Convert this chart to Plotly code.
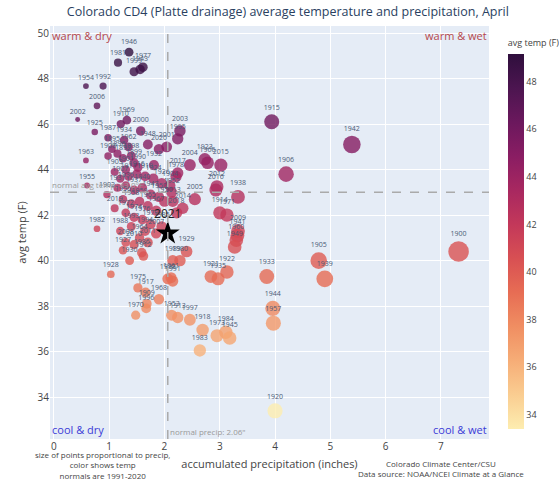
import plotly.graph_objects as go

years = [1946, 1981, 1999, 1943, 1977, 1954, 1992, 2006, 2002, 1969,
         1910, 2000, 1925, 1987, 1934, 1962, 1948, 2001, 1963, 1908,
         1932, 1990, 2003, 1995, 2004, 1923, 1966, 2015, 2017, 1978,
         2012, 2016, 1938, 2005, 1952, 1914, 1971, 2009, 1941, 1960,
         1949, 1929, 1989, 1980, 1998, 1991, 1921, 1935, 1922, 1933,
         1944, 1957, 1953, 1913, 1997, 1918, 1973, 1984, 1945, 1983,
         1920, 1915, 1942, 1906, 1905, 1939, 1900, 1955, 1902, 1982,
         1928, 1975, 1917, 1968, 1909, 1970, 1996, 1961, 1912, 1927,
         1930, 1986, 1964,
         1895, 1896, 1897, 1898, 1899, 1901, 1903, 1904, 1907, 1911,
         1916, 1919, 1924, 1926, 1931, 1936, 1937, 1940, 1947, 1950,
         1951, 1956, 1958, 1959, 1965, 1967, 1972, 1974, 1976, 1979,
         1985, 1988, 1993, 1994, 2007, 2008, 2010, 2011, 2013, 2014,
         2018, 2019, 2020]

precip = [1.36, 1.16, 1.45, 1.56, 1.61, 0.58, 0.89, 0.78, 0.43, 1.32,
          1.21, 1.57, 0.74, 0.98, 1.27, 1.35, 1.70, 2.04, 0.58, 0.98,
          1.81, 1.52, 2.28, 2.24, 2.46, 2.73, 2.78, 3.02, 2.24, 2.21,
          2.95, 2.93, 3.33, 2.55, 2.13, 3.00, 3.13, 3.33, 3.32, 3.30,
          3.27, 2.40, 2.15, 2.28, 2.06, 2.15, 2.84, 2.97, 3.13, 3.85,
          3.96, 3.97, 2.13, 2.24, 2.46, 2.69, 2.95, 3.11, 3.18, 2.64,
          4.00, 3.94, 5.39, 4.20, 4.79, 4.90, 7.32, 0.60, 0.96, 0.78,
          1.03, 1.52, 1.66, 1.90, 1.68, 1.48, 1.67, 2.12, 1.62, 1.25,
          1.37, 1.59, 1.55,
          1.05, 1.15, 1.25, 1.40, 1.45, 1.30, 1.10, 2.10, 1.20, 1.35,
          1.50, 1.65, 1.80, 1.95, 1.15, 1.30, 1.45, 1.60, 1.75, 1.90,
          2.00, 1.25, 1.40, 1.55, 1.70, 1.85, 1.30, 1.45, 1.60, 1.75,
          1.95, 1.20, 1.40, 1.65, 1.85, 1.30, 1.45, 1.70, 2.15, 2.33,
          2.22, 1.10, 1.90]

temp = [49.16, 48.70, 48.30, 48.40, 48.50, 47.67, 47.67, 46.80, 46.20, 46.17,
        46.00, 45.70, 45.65, 45.40, 45.30, 45.00, 45.10, 45.00, 44.40, 44.60,
        44.20, 44.10, 45.70, 45.35, 44.20, 44.45, 44.30, 44.20, 43.85, 43.70,
        43.25, 43.10, 42.80, 42.70, 43.00, 42.10, 42.00, 41.30, 41.10, 40.90,
        40.60, 40.40, 40.00, 40.00, 39.20, 39.10, 39.30, 39.20, 39.50, 39.30,
        37.90, 37.25, 37.60, 37.50, 37.40, 36.95, 36.70, 36.85, 36.60, 36.05,
        33.40, 46.10, 45.10, 43.80, 40.00, 39.20, 40.40, 43.30, 42.90, 41.40,
        39.40, 38.80, 38.60, 38.30, 38.10, 37.60, 37.90, 39.25, 40.20, 40.45,
        40.00, 40.35, 41.00,
        44.90, 44.70, 44.50, 44.60, 44.30, 44.00, 43.90, 43.30, 43.60, 43.70,
        43.80, 43.70, 43.60, 43.40, 43.20, 43.30, 43.10, 43.20, 42.90, 42.80,
        42.60, 42.70, 42.50, 42.60, 42.40, 42.20, 42.10, 41.90, 41.80, 41.60,
        41.50, 41.30, 41.50, 41.30, 41.20, 40.80, 40.70, 40.80, 42.60, 42.30,
        42.10, 42.30, 44.90]

year_2021 = [2021]
precip_2021 = [2.06]
temp_2021 = [41.2]

normal_precip = 2.06
normal_temp = 43.0

x_ticks = [0, 1, 2, 3, 4, 5, 6, 7]
y_ticks = [34, 36, 38, 40, 42, 44, 46, 48, 50]

max_p = max(precip)
fig = go.Figure()
fig.add_trace(go.Scatter(
    x=precip, y=temp, mode="markers+text",
    text=[str(y) for y in years], textposition="top center",
    textfont=dict(size=7, color="#4a5a75"),
    marker=dict(size=precip, sizemode="area", sizeref=2.0 * max_p / 20.5 ** 2,
                sizemin=2, color=temp, colorscale="matter", opacity=0.8,
                line=dict(width=0),
                colorbar=dict(title=dict(text="avg temp (F)", side="top",
                                         font=dict(size=9, color="#444")),
                              thickness=16, tickvals=y_ticks,
                              tickfont=dict(size=9, color="#444"),
                              outlinewidth=0)),
    showlegend=False, hoverinfo="x+y+text",
))
fig.add_trace(go.Scatter(
    x=precip_2021, y=temp_2021, mode="markers+text",
    text=[str(y) for y in year_2021], textposition="top center",
    textfont=dict(size=12, color="#222"),
    marker=dict(symbol="star", size=18, color="black"),
    showlegend=False,
))

fig.add_vline(x=normal_precip, line=dict(color="#aaa", width=1.5, dash="dash"))
fig.add_hline(y=normal_temp, line=dict(color="#aaa", width=1.5, dash="dash"))

ann = [
    dict(text="warm & dry", x=0, y=1, xanchor="left", yanchor="top", color="#b5474d"),
    dict(text="warm & wet", x=1, y=1, xanchor="right", yanchor="top", color="#b5474d"),
    dict(text="cool & dry", x=0, y=0, xanchor="left", yanchor="bottom", color="#3b3bd6"),
    dict(text="cool & wet", x=1, y=0, xanchor="right", yanchor="bottom", color="#3b3bd6"),
]
for a in ann:
    fig.add_annotation(text=a["text"], xref="paper", yref="paper", x=a["x"], y=a["y"],
                       xanchor=a["xanchor"], yanchor=a["yanchor"], showarrow=False,
                       font=dict(size=11, color=a["color"]))

fig.add_annotation(text='normal precip: 2.06"', x=normal_precip, xref="x", y=0, yref="paper",
                   xanchor="left", yanchor="bottom", showarrow=False,
                   font=dict(size=8, color="#999"))
fig.add_annotation(text="normal avg temp: 43.0°F", x=0, xref="paper", y=normal_temp, yref="y",
                   xanchor="left", yanchor="bottom", showarrow=False,
                   font=dict(size=8, color="#999"))
fig.add_annotation(text="size of points proportional to precip,<br>color shows temp<br>normals are 1991-2020",
                   xref="paper", yref="paper", x=0.12, y=-0.02, xanchor="center", yanchor="top",
                   showarrow=False, font=dict(size=8, color="#444"))
fig.add_annotation(text="Colorado Climate Center/CSU<br>Data source: NOAA/NCEI Climate at a Glance",
                   xref="paper", yref="paper", x=0.89, y=-0.042, xanchor="center", yanchor="top",
                   showarrow=False, font=dict(size=8, color="#444"))

fig.update_layout(
    width=559, height=482,
    margin=dict(l=50, r=70, t=26, b=43, autoexpand=False),
    template="plotly",
    title=dict(text="Colorado CD4 (Platte drainage) average temperature and precipitation, April",
               x=0.515, y=0.985, xanchor="center", yanchor="top",
               font=dict(size=12.5, color="#2a3f5f")),
    xaxis=dict(range=[-0.07, 7.87], tickvals=x_ticks, tickfont=dict(size=10, color="#444"),
               title=dict(text="accumulated precipitation (inches)", font=dict(size=11, color="#444"),
                          standoff=8), zeroline=False, automargin=False),
    yaxis=dict(range=[32.16, 50.31], tickvals=y_ticks, tickfont=dict(size=10, color="#444"),
               title=dict(text="avg temp (F)", font=dict(size=11, color="#444"), standoff=8),
               zeroline=False, automargin=False),
)

fig.write_html("out.html", config={"displayModeBar": False},
               post_script="document.body.style.margin='0';document.body.style.overflow='hidden';")
